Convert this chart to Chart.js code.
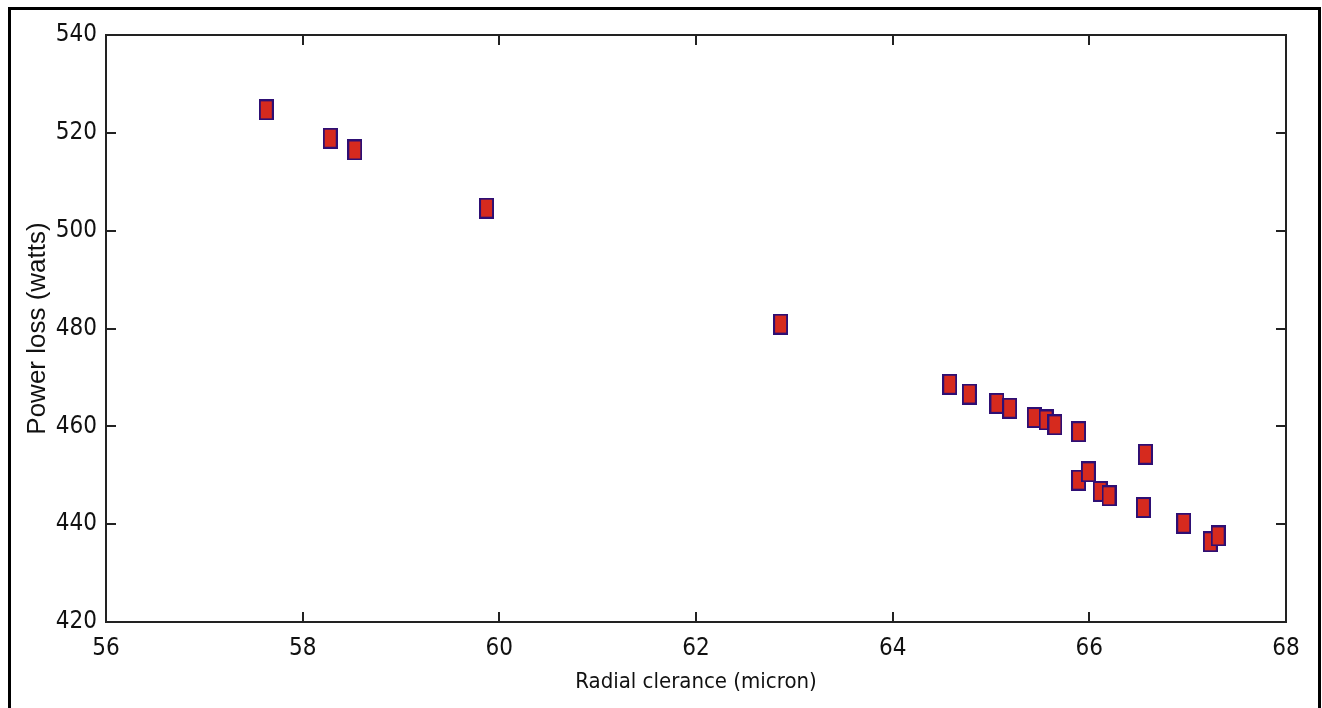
<!DOCTYPE html>
<html>
<head>
<meta charset="utf-8">
<script src="https://cdn.jsdelivr.net/npm/chart.js@4/dist/chart.umd.min.js"></script>
<style>
  body { margin: 0; background: #fff; }
  #wrap { position: relative; width: 1322px; height: 708px; }
  #frame {
    position: absolute; left: 8px; top: 7px; width: 1307px; height: 710px;
    border: 3px solid #000; border-bottom: none; pointer-events: none;
  }
</style>
</head>
<body>
<div id="wrap">
  <canvas id="chart" width="1322" height="708"></canvas>
  <div id="frame"></div>
</div>
<script>
// radial clearance (micron) vs power loss (watts)
var clearance = [57.63, 58.28, 58.53, 59.87, 62.86, 64.58, 64.78, 65.06, 65.19, 65.44, 65.56,
  65.65, 65.89, 66.57, 65.89, 65.99, 66.11, 66.20, 66.55, 66.96, 67.23, 67.31]
var powerLoss = [524.7, 518.9, 516.5, 504.6, 480.9, 468.6, 466.6, 464.7, 463.7, 461.8, 461.3,
  460.3, 458.9, 454.3, 449.0, 450.7, 446.7, 445.8, 443.4, 440.2, 436.4, 437.6]

var xTicks = [56, 58, 60, 62, 64, 66, 68]
var yTicks = [420, 440, 460, 480, 500, 520, 540]

var narrow = '"DejaVu Sans Condensed", "Liberation Sans Narrow", "Liberation Sans", Arial, sans-serif'
var tickFont = { family: narrow, size: 24 }
var axisColor = '#222'

function makeMarker () {
  var c = document.createElement('canvas')
  c.width = 15
  c.height = 21
  var g = c.getContext('2d')
  g.fillStyle = '#2e0f74'
  g.fillRect(0, 0, 15, 21)
  g.fillStyle = '#d62a1e'
  g.fillRect(2, 2, 11, 17)
  return c
}

function fixedSize (size) {
  return function (scale) {
    if (scale.isHorizontal()) scale.height = size
    else scale.width = size
  }
}

function tickList (values) {
  return function (scale) {
    scale.ticks = values.map(function (v) { return { value: v } })
  }
}

var points = clearance.map(function (x, i) { return { x: x, y: powerLoss[i] } })

new Chart(document.getElementById('chart'), {
  type: 'scatter',
  data: {
    datasets: [{
      data: points,
      pointStyle: makeMarker(),
      pointRadius: 10
    }]
  },
  options: {
    responsive: false,
    animation: false,
    plugins: { legend: { display: false }, tooltip: { enabled: false } },
    layout: { padding: 0 },
    scales: {
      x: {
        type: 'linear', position: 'bottom', min: 56, max: 68,
        afterBuildTicks: tickList(xTicks),
        afterFit: fixedSize(86),
        grid: { drawOnChartArea: false, tickLength: -10, color: axisColor, lineWidth: 2 },
        border: { color: axisColor, width: 2 },
        ticks: { font: tickFont, color: '#111', padding: 22, maxRotation: 0 },
        title: {
          display: true, text: 'Radial clerance (micron)', color: '#111',
          font: { family: narrow, size: 22 },
          padding: { top: 0, bottom: 13 }
        }
      },
      x2: {
        type: 'linear', position: 'top', min: 56, max: 68,
        afterBuildTicks: tickList(xTicks),
        afterFit: fixedSize(35),
        grid: { drawOnChartArea: false, tickLength: -10, color: axisColor, lineWidth: 2 },
        border: { color: axisColor, width: 2 },
        ticks: { display: false }
      },
      y: {
        type: 'linear', position: 'left', min: 420, max: 540,
        afterBuildTicks: tickList(yTicks),
        afterFit: fixedSize(106),
        grid: { drawOnChartArea: false, tickLength: -10, color: axisColor, lineWidth: 2 },
        border: { color: axisColor, width: 2 },
        ticks: { font: tickFont, color: '#111', padding: 19 },
        title: {
          display: true, text: 'Power loss (watts)', color: '#111',
          font: { family: '"Liberation Sans", Arial, sans-serif', size: 26 },
          padding: { top: 22, bottom: 0 }
        }
      },
      y2: {
        type: 'linear', position: 'right', min: 420, max: 540,
        afterBuildTicks: tickList(yTicks),
        afterFit: fixedSize(36),
        grid: { drawOnChartArea: false, tickLength: -10, color: axisColor, lineWidth: 2 },
        border: { color: axisColor, width: 2 },
        ticks: { display: false }
      }
    }
  }
})
</script>
</body>
</html>
